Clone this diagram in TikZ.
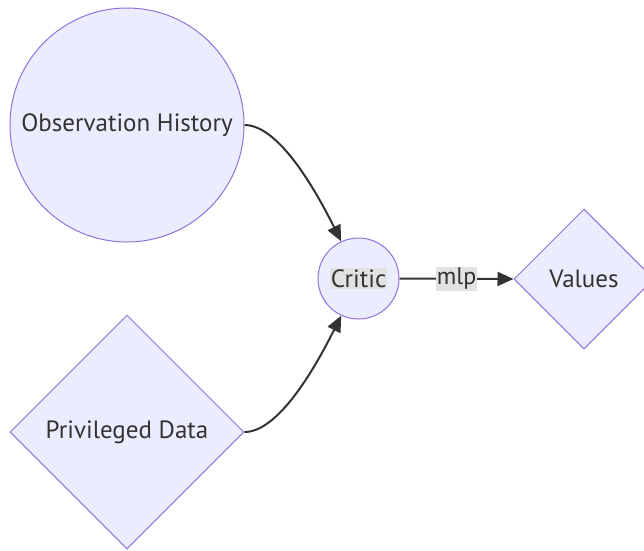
\documentclass[tikz,border=0pt]{standalone}
\usepackage{fontspec}
\setmainfont{PT Sans}
\usetikzlibrary{shapes.geometric,arrows.meta}
\definecolor{nodefill}{HTML}{ECECFF}
\definecolor{nodeline}{HTML}{9370DB}
\definecolor{edgecol}{HTML}{333333}
\definecolor{labelgray}{HTML}{E2E2E2}
\definecolor{textcol}{HTML}{333333}
\tikzset{
  base/.style={draw=nodeline,fill=nodefill,line width=1pt,text=textcol,inner sep=0pt,font=\fontsize{25}{29}\selectfont},
  circ/.style={base,circle},
  dia/.style={base,diamond,aspect=1},
  edge/.style={draw=edgecol,line width=2pt,-{Triangle[length=16pt,width=14pt]}},
  elabel/.style={fill=labelgray,text=textcol,inner sep=1pt,font=\fontsize{24}{28}\selectfont}
}
\begin{document}
\begin{tikzpicture}[x=1pt,y=-1pt]
\useasboundingbox (0,0) rectangle (644,550);
\begin{scope}
\clip (0,0) rectangle (644,550);
\node[circ,minimum size=234pt] (obs) at (127,125) {Observation History};
\node[dia,minimum width=234pt,minimum height=234pt] (priv) at (127,432) {Privileged Data};
\node[circ,minimum size=81pt] (critic) at (358.5,278.5) {\fboxsep=1pt\colorbox{labelgray}{Critic}};
\node[dia,minimum width=140pt,minimum height=140pt] (values) at (584,279) {Values};
\end{scope}
\draw[edge] (obs.east) .. controls (280,125) and (318,195) .. (critic.115);
\draw[edge] (priv.east) .. controls (280,432) and (318,362) .. (critic.245);
\draw[edge] (critic.east) -- node[elabel] (mlp) {mlp} (values.west);
\end{tikzpicture}
\end{document}
